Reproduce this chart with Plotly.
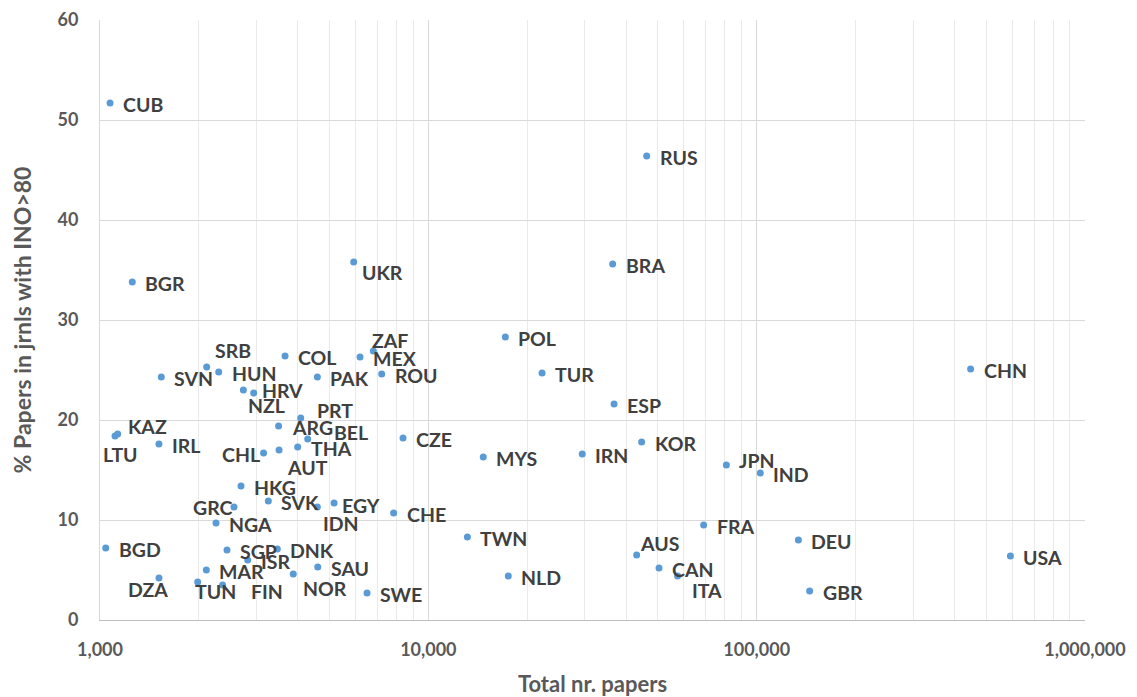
import numpy as np
import plotly.graph_objects as go

# ---- data ----
countries = ["CUB", "RUS", "BRA", "UKR", "BGR", "POL", "ZAF", "COL", "MEX", "SRB",
             "CHN", "HUN", "TUR", "ROU", "SVN", "PAK", "NZL", "HRV", "ESP", "PRT",
             "ARG", "KAZ", "LTU", "CZE", "BEL", "KOR", "IRL", "THA", "AUT", "CHL",
             "IRN", "MYS", "JPN", "IND", "HKG", "SVK", "EGY", "GRC", "IDN", "CHE",
             "NGA", "FRA", "TWN", "DEU", "BGD", "DNK", "SGP", "AUS", "USA", "ISR",
             "SAU", "CAN", "MAR", "NOR", "NLD", "ITA", "DZA", "TUN", "FIN", "GBR",
             "SWE"]
total_papers = [1073, 46240, 36420, 5925, 1254, 17160, 6800, 3661, 6194, 2113,
                448300, 2299, 22200, 7211, 1537, 4592, 2733, 2938, 36780, 4087,
                3499, 1132, 1111, 8375, 4292, 44640, 1512, 4000, 3510, 3149,
                29430, 14700, 80850, 102600, 2688, 3256, 5163, 2559, 4592, 7840,
                2256, 68960, 13150, 134000, 1041, 3468, 2437, 43100, 592700, 2817,
                4605, 50420, 2108, 3878, 17520, 57440, 1512, 1984, 2363, 145000,
                6507]
pct_ino80 = [51.7, 46.4, 35.6, 35.8, 33.8, 28.3, 26.9, 26.4, 26.3, 25.3,
             25.1, 24.8, 24.7, 24.6, 24.3, 24.3, 23.0, 22.7, 21.6, 20.2,
             19.4, 18.6, 18.4, 18.2, 18.1, 17.8, 17.6, 17.3, 17.0, 16.7,
             16.6, 16.3, 15.5, 14.7, 13.4, 11.9, 11.7, 11.3, 11.3, 10.7,
             9.7, 9.5, 8.3, 8.0, 7.2, 7.1, 7.0, 6.5, 6.4, 6.0,
             5.3, 5.2, 5.0, 4.6, 4.4, 4.4, 4.2, 3.8, 3.5, 2.9,
             2.7]
x_tick_values = [1000, 10000, 100000, 1000000]
x_tick_labels = ["1,000", "10,000", "100,000", "1,000,000"]

# ---- label placement (styling only): anchor, dx px, dy px (down) ----
DEFAULT_LABEL = ("left", 13, 1)
LABEL_PLACEMENT = {
    "UKR": ("left", 8, 10), "SRB": ("left", 8, -17), "ZAF": ("left", -1, -11),
    "HRV": ("left", 8, -3), "NZL": ("left", 5, 15), "PRT": ("left", 16, -8),
    "BEL": ("left", 26, -7), "AUT": ("left", 8, 17), "CHL": ("right", -4, 1),
    "KAZ": ("left", 10, -8), "LTU": ("center", 5, 18), "GRC": ("right", -1, 0),
    "IDN": ("left", 6, 16), "EGY": ("left", 8, 2), "TUN": ("left", -3, 9),
    "FIN": ("left", 28, 6), "NOR": ("left", 10, 14), "DZA": ("left", -31, 11),
    "AUS": ("left", 3, -12), "ITA": ("left", 14, 14), "JPN": ("left", 13, -5),
}

FONT = "Lato"
TEXT_GREY = "#595959"
LABEL_GREY = "#404040"

fig = go.Figure()
fig.add_trace(go.Scatter(
    x=total_papers, y=pct_ino80, mode="markers",
    marker=dict(color="#5B9BD5", size=7, line=dict(width=0)),
    text=countries, hoverinfo="text+x+y", showlegend=False,
))

annotations = []
for c, xv, yv in zip(countries, total_papers, pct_ino80):
    anchor, dx, dy = LABEL_PLACEMENT.get(c, DEFAULT_LABEL)
    annotations.append(dict(
        x=np.log10(xv), y=yv, xref="x", yref="y", text=c, showarrow=False,
        xanchor=anchor, yanchor="middle", xshift=dx, yshift=-dy,
        borderpad=0, borderwidth=0,
        font=dict(family=FONT, size=19.5, color=LABEL_GREY, weight="bold"),
    ))

# the page adds an 8px body margin, so the figure is sized to fit inside it
fig.update_layout(
    width=1129, height=689,
    margin=dict(l=92, r=52, t=12, b=77, autoexpand=False),
    paper_bgcolor="white", plot_bgcolor="white",
    font=dict(family=FONT, color=TEXT_GREY),
    annotations=annotations,
)
fig.update_xaxes(
    type="log", range=[3, 6], automargin=False,
    tickvals=x_tick_values, ticktext=x_tick_labels,
    tickfont=dict(family=FONT, size=18, color=TEXT_GREY, weight="bold"),
    ticks="", ticklabelstandoff=13,
    showgrid=True, gridcolor="#d9d9d9", gridwidth=1,
    minor=dict(dtick="D1", showgrid=True, gridcolor="#eaeaea", gridwidth=1, ticks=""),
    showline=True, linecolor="#bfbfbf", linewidth=1,
    zeroline=False,
    title=dict(text="Total nr. papers",
               font=dict(family=FONT, size=22, color=TEXT_GREY, weight="bold"),
               standoff=19),
)
fig.update_yaxes(
    range=[0, 60], dtick=10, automargin=False,
    tickfont=dict(family=FONT, size=18, color=TEXT_GREY, weight="bold"),
    ticks="", ticklabelstandoff=17,
    showgrid=True, gridcolor="#d9d9d9", gridwidth=1,
    showline=True, linecolor="#d9d9d9", linewidth=1,
    zeroline=False,
    title=dict(text="% Papers in jrnls with INO>80",
               font=dict(family=FONT, size=23, color=TEXT_GREY, weight="bold"),
               standoff=28),
)

fig.write_html("out.html")
